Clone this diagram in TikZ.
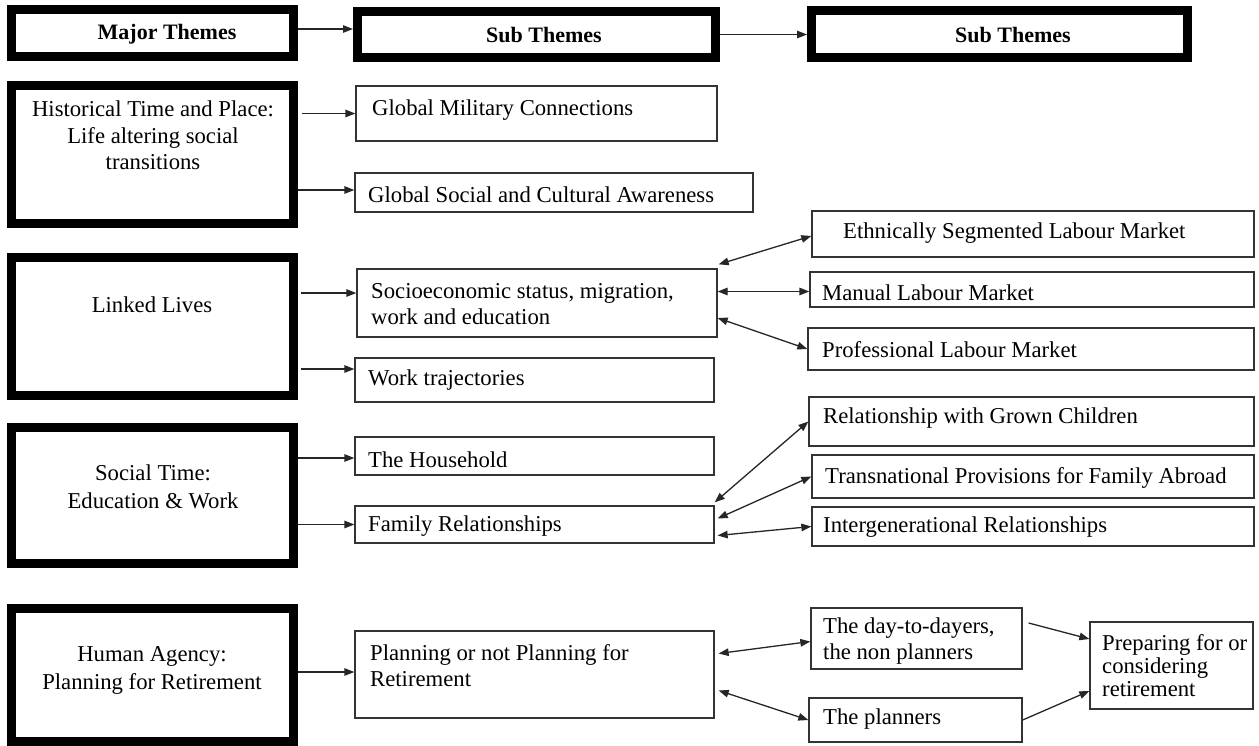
\documentclass[tikz,border=0pt]{standalone}
\usepackage{fontspec}
\setmainfont{Liberation Serif}
\usetikzlibrary{arrows.meta,calc}

\begin{document}
\begin{tikzpicture}[x=1pt,y=-1pt,
  thickbox/.style={draw=black, line width=9pt, inner sep=0pt, outer sep=4.5pt, minimum width=282pt},
  thinbox/.style={draw=black!80, line width=1.3pt, inner sep=0pt, outer sep=0.65pt},
  txt/.style={inner sep=0pt, font=\fontsize{22.7}{26}\selectfont, align=left, anchor=west},
  ctxt/.style={inner sep=0pt, font=\fontsize{22.7}{26.5}\selectfont, align=center},
  hdr/.style={inner sep=0pt, font=\fontsize{22}{26}\selectfont\bfseries},
  arr/.style={line width=1.3pt, draw=black!85, -{Triangle[length=10pt,width=7.5pt]}},
  biarr/.style={line width=1.3pt, draw=black!85, {Triangle[length=10pt,width=7.5pt]}-{Triangle[length=10pt,width=7.5pt]}},
]
\useasboundingbox (0,0) rectangle (1259,745);
\fill[white] (0,0) rectangle (1259,745);
\clip (0,0) rectangle (1259,745);

% header row
\node[thickbox, minimum height=47pt] (major) at (152.5,33) {};
\node[thickbox, minimum width=358pt, minimum height=46pt] (sub1) at (536.5,34.5) {};
\node[thickbox, minimum width=376pt, minimum height=47pt] (sub2) at (999.5,34) {};
\node[hdr] (majort) at (167,34) {Major Themes};
\node[hdr] (sub1t) at (544,34.5) {Sub Themes};
\node[hdr] (sub2t) at (1013,34.5) {Sub Themes};

% major themes
\node[thickbox, minimum height=138pt] (hist) at (152.5,154.5) {};
\node[thickbox, minimum height=138pt] (linked) at (152.5,326.5) {};
\node[thickbox, minimum height=136pt] (social) at (152.5,495.5) {};
\node[thickbox, minimum height=133pt] (human) at (152.5,675) {};
\node[ctxt] (histt) at (153,135.5) {Historical Time and Place:\\Life altering social\\transitions};
\node[ctxt] (linkedt) at (152,305) {Linked Lives};
\node[ctxt, font=\fontsize{22.7}{28}\selectfont] (socialt) at (153,487) {Social Time:\\Education \& Work};
\node[ctxt, font=\fontsize{22.7}{28}\selectfont] (humant) at (152,670) {Human Agency:\\Planning for Retirement};

% second column
\node[thinbox, minimum width=361pt, minimum height=55pt] (gmc) at (536.5,113.5) {};
\node[thinbox, minimum width=398pt, minimum height=39pt] (gsc) at (554,192.5) {};
\node[thinbox, minimum width=360pt, minimum height=68pt] (socio) at (537,303) {};
\node[thinbox, minimum width=359pt, minimum height=44pt] (work) at (534.5,380) {};
\node[thinbox, minimum width=359pt, minimum height=38pt] (hh) at (534.5,456) {};
\node[thinbox, minimum width=359pt, minimum height=37pt] (family) at (534.5,524.5) {};
\node[thinbox, minimum width=359pt, minimum height=87pt] (plan) at (534.5,674.5) {};
\node[txt] (gmct) at (372,110) {Global Military Connections};
\node[txt] (gsct) at (368,194.5) {Global Social and Cultural Awareness};
\node[txt] (sociot) at (371,304) {Socioeconomic status, migration,\\work and education};
\node[txt] (workt) at (368,380.5) {Work trajectories};
\node[txt] (hht) at (368,459.5) {The Household};
\node[txt] (familyt) at (368,526.5) {Family Relationships};
\node[txt] (plant) at (370,666) {Planning or not Planning for\\Retirement};

% third column
\node[thinbox, minimum width=442pt, minimum height=46pt] (ethnic) at (1033,234) {};
\node[thinbox, minimum width=444pt, minimum height=35pt] (manual) at (1032,289.5) {};
\node[thinbox, minimum width=446pt, minimum height=42pt] (prof) at (1031,349) {};
\node[thinbox, minimum width=445pt, minimum height=49pt] (grown) at (1031.5,421.5) {};
\node[thinbox, minimum width=442pt, minimum height=43pt] (trans) at (1033,476.5) {};
\node[thinbox, minimum width=442pt, minimum height=39pt] (inter) at (1033,526.5) {};
\node[thinbox, minimum width=211pt, minimum height=61pt] (day) at (916.5,638.5) {};
\node[thinbox, minimum width=213pt, minimum height=44pt] (planners) at (915.5,720) {};
\node[thinbox, minimum width=163pt, minimum height=87pt] (prep) at (1171.5,665.5) {};
\node[txt] (ethnict) at (843,233.5) {Ethnically Segmented Labour Market};
\node[txt] (manualt) at (822,292.5) {Manual Labour Market};
\node[txt] (proft) at (822,349.5) {Professional Labour Market};
\node[txt] (grownt) at (823,418.5) {Relationship with Grown Children};
\node[txt] (transt) at (825,477.5) {Transnational Provisions for Family Abroad};
\node[txt] (intert) at (823,527.5) {Intergenerational Relationships};
\node[txt] (dayt) at (823,641.5) {The day-to-dayers,\\the non planners};
\node[txt] (plannerst) at (823,719.5) {The planners};
\node[txt, font=\fontsize{22.7}{23}\selectfont] (prept) at (1102,666) {Preparing for or\\considering\\retirement};

% connectors
\draw[arr] ($(major.east)+(0,-4)$) -- ($(major.east -| sub1.west)+(0,-4)$);
\draw[arr] (sub1.east) -- (sub1.east -| sub2.west);
\draw[arr, shorten <=4pt] (gmc.west -| hist.east) -- (gmc.west);
\draw[arr] ($(gsc.west -| hist.east)+(0,-2.5)$) -- ($(gsc.west)+(0,-2.5)$);
\draw[arr, shorten <=3pt] ($(socio.west -| linked.east)+(0,-10)$) -- ($(socio.west)+(0,-10)$);
\draw[arr, shorten <=3pt] ($(work.west -| linked.east)+(0,-11)$) -- ($(work.west)+(0,-11)$);
\draw[arr] ($(hh.west -| social.east)+(0,2)$) -- ($(hh.west)+(0,2)$);
\draw[arr] (family.west -| social.east) -- (family.west);
\draw[arr] ($(plan.west -| human.east)+(0,-2.5)$) -- ($(plan.west)+(0,-2.5)$);

\draw[biarr] ($(socio.north east)+(1,-4)$) -- ($(ethnic.west)+(0,2)$);
\draw[biarr] ($(socio.east |- manual.west)+(0,2)$) -- ($(manual.west)+(0,2)$);
\draw[biarr] ($(socio.east)+(0,15)$) -- (prof.west);
\draw[biarr] ($(family.north east)+(0,-3)$) -- (grown.west);
\draw[biarr] ($(family.east)+(3,-6)$) -- (trans.west);
\draw[biarr] ($(family.east)+(3,11)$) -- (inter.west);
\draw[biarr] ($(plan.east)+(4,-21)$) -- ($(day.west)+(0,3)$);
\draw[biarr] ($(plan.east)+(4,16)$) -- (planners.west);
\draw[arr] ($(day.east)+(6,-15.5)$) -- ($(prep.west)+(0,-26.5)$);
\draw[arr] (planners.east) -- ($(prep.west)+(0,25.5)$);
\end{tikzpicture}
\end{document}
